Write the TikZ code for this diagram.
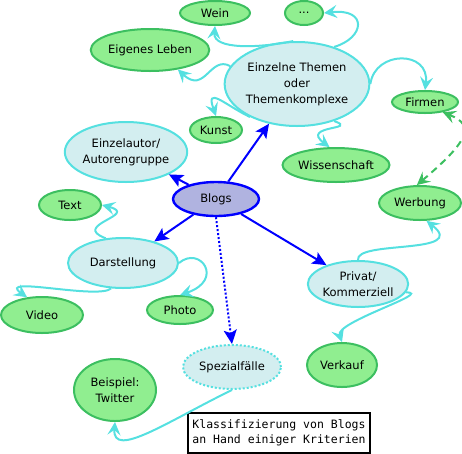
\documentclass[tikz,border=0pt]{standalone}
\usepackage{fontspec}
\setmainfont{DejaVu Sans}
\setmonofont{DejaVu Sans Mono}
\usetikzlibrary{shapes.geometric,arrows.meta}
\definecolor{lgreen}{HTML}{90EE90}
\definecolor{dgreen}{HTML}{3CBF60}
\definecolor{lcyan}{HTML}{D3EEF0}
\definecolor{ccyan}{HTML}{55E0E0}
\definecolor{lblue}{HTML}{B0B3E0}
\begin{document}
\begin{tikzpicture}[x=1pt,y=-1pt,
  every node/.style={font=\fontsize{11.5}{16}\selectfont},
  ov/.style 2 args={ellipse, minimum width=#1pt, minimum height=#2pt, inner sep=0pt, align=center, line width=2pt},
  gnode/.style={fill=lgreen, draw=dgreen},
  cnode/.style={fill=lcyan, draw=ccyan},
  bnode/.style={fill=lblue, draw=blue, line width=2.4pt},
  carrow/.style={draw=ccyan, line width=2pt, -{Stealth[length=13pt,width=13pt,inset=5pt]}},
  barrow/.style={draw=blue, line width=2pt, -{Stealth[length=14pt,width=13pt,inset=3pt]}},
  garrow/.style={draw=dgreen, line width=2pt, dash pattern=on 7pt off 5pt, {Stealth[length=13pt,width=13pt,inset=5pt]}-{Stealth[length=13pt,width=13pt,inset=5pt]}},
  note/.style={draw=black, line width=2pt, fill=white, inner sep=0pt, align=left, minimum width=182pt, minimum height=40pt, font=\ttfamily\fontsize{11.5}{15}\selectfont}
]
\useasboundingbox (0,0) rectangle (462,453);

% nodes
\node[ov={86}{34}, bnode] (blogs) at (216,199) {Blogs};
\node[ov={134}{84}, cnode] (them) at (297,84) {Einzelne Themen\\oder\\Themenkomplexe};
\node[ov={70}{24}, gnode] (wein) at (215,13) {Wein};
\node[ov={38}{24}, gnode] (dots) at (304,13) {...};
\node[ov={104}{42}, gnode] (leben) at (150,50) {Eigenes Leben};
\node[ov={52}{26}, gnode] (kunst) at (216,130) {Kunst};
\node[ov={66}{22}, gnode] (firmen) at (425,102) {Firmen};
\node[ov={96}{34}, gnode] (wiss) at (336,165) {Wissenschaft};
\node[ov={110}{60}, cnode] (autor) at (126,152) {Einzelautor/\\Autorengruppe};
\node[ov={62}{30}, gnode] (text) at (70,205) {Text};
\node[ov={110}{50}, cnode] (darst) at (123,263) {Darstellung};
\node[ov={82}{36}, gnode] (video) at (42,315) {Video};
\node[ov={66}{28}, gnode] (photo) at (180,310) {Photo};
\node[ov={82}{34}, gnode] (werb) at (420,203) {Werbung};
\node[ov={100}{46}, cnode] (priv) at (358,284) {Privat/\\Kommerziell};
\node[ov={98}{44}, cnode, dotted] (spez) at (232,367) {Spezialfälle};
\node[ov={70}{44}, gnode] (verk) at (342,365) {Verkauf};
\node[ov={82}{62}, gnode] (bsp) at (115,390) {Beispiel:\\Twitter};
\node[note] (kl) at (279,433) {Klassifizierung von Blogs\\an Hand einiger Kriterien};

% blue arrows
\draw[barrow] (blogs) -- (them);
\draw[barrow] (blogs) -- (autor);
\draw[barrow] (blogs) -- (darst);
\draw[barrow] (blogs) -- (priv);
\draw[barrow, dotted] (blogs.south) -- (spez.north);

% cyan curves
\draw[carrow] (them.95) .. controls (260,48) and (213,50) .. (wein.south);
\draw[carrow] (them.45) .. controls (365,38) and (368,8) .. (dots.east);
\draw[carrow] (them.165) .. controls (210,55) and (205,95) .. (leben.-35);
\draw[carrow] (them.215) .. controls (225,105) and (205,85) .. (kunst.north);
\draw[carrow] (them.east) .. controls (375,50) and (430,50) .. (firmen.north);
\draw[carrow] (them.-45) .. controls (360,130) and (300,125) .. (wiss.110);
\draw[carrow] (darst.125) .. controls (70,225) and (140,215) .. (text.east);
\draw[carrow] (darst.-115) .. controls (98,300) and (-5,275) .. (video.130);
\draw[carrow] (darst.east) .. controls (200,245) and (225,280) .. (photo.north);
\draw[carrow] (priv.north) .. controls (355,240) and (470,255) .. (werb.-70);
\draw[carrow] (priv.-10) .. controls (435,292) and (335,322) .. (verk.north);
\draw[carrow] (spez.south) .. controls (170,420) and (112,460) .. (bsp.south);

% green dashed
\draw[garrow] (werb.100) .. controls (470,140) and (475,125) .. (firmen.-30);
\end{tikzpicture}
\end{document}
